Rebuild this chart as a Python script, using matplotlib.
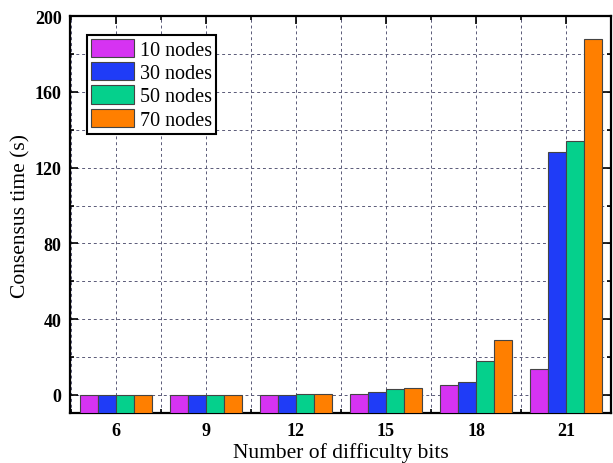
#!/usr/bin/env python3
# -*- coding:utf-8 -*-
import numpy as np
import matplotlib
matplotlib.use("Agg")
import matplotlib.pyplot as plt
from matplotlib.ticker import MultipleLocator

# data
bits = [6, 9, 12, 15, 18, 21]
series = ["10 nodes", "30 nodes", "50 nodes", "70 nodes"]
t10 = [0.02, 0.05, 0.1, 0.5, 5.1, 13.5]
t30 = [0.03, 0.08, 0.2, 1.5, 6.8, 128.5]
t50 = [0.04, 0.1, 0.3, 3.3, 17.7, 134.0]
t70 = [0.05, 0.12, 0.6, 3.6, 28.9, 188.0]
colors = ["#d633f2", "#1f3cf7", "#05d08c", "#ff7f00"]

plt.rcParams['font.family'] = ['Liberation Serif', 'DejaVu Serif']

fig = plt.figure(figsize=(6.13, 4.64), dpi=100)
ax = fig.add_axes([0.114, 0.108, 0.883, 0.855])

ymin, ymax = -9.5, 200
width = 0.6
x = np.array(bits, dtype=float)
for i, vals in enumerate([t10, t30, t50, t70]):
    pos = x + (i - 1.5) * width
    v = np.array(vals)
    ax.bar(pos, v - ymin, bottom=ymin, width=width, color=colors[i],
           edgecolor="#444444", linewidth=0.8, label=series[i], zorder=3)

ax.set_xlim(4.47, 22.5)
ax.set_ylim(ymin, ymax)
ax.set_xticks(bits)
ax.xaxis.set_minor_locator(MultipleLocator(1.5))
ax.yaxis.set_major_locator(MultipleLocator(40))
ax.yaxis.set_minor_locator(MultipleLocator(20))

ax.grid(True, which="both", linestyle=(0, (3, 3)), color="#5a5a78", linewidth=0.7, zorder=0)
ax.set_axisbelow(True)

ax.tick_params(which="both", direction="in", top=True, right=True, width=1.2)
ax.tick_params(which="major", length=6, labelsize=13)
ax.tick_params(axis="x", which="major", pad=6.5)
ax.tick_params(axis="y", which="major", pad=6)
ax.tick_params(which="minor", length=3)
for lab in ax.get_xticklabels() + ax.get_yticklabels():
    lab.set_fontweight("bold")
for sp in ax.spines.values():
    sp.set_linewidth(1.6)

ax.set_xlabel("Number of difficulty bits", fontsize=15.5, labelpad=2)
ax.set_ylabel("Consensus time (s)", fontsize=15.5, labelpad=3)

leg = ax.legend(loc="upper left", bbox_to_anchor=(0.032, 0.953), fontsize=14.5,
                frameon=True, fancybox=False, edgecolor="black", framealpha=1,
                handlelength=2.1, handleheight=1.0, labelspacing=0.12,
                handletextpad=0.3, borderpad=0.2, borderaxespad=0)
leg.get_frame().set_linewidth(1.5)

fig.savefig("out.png", dpi=100)
